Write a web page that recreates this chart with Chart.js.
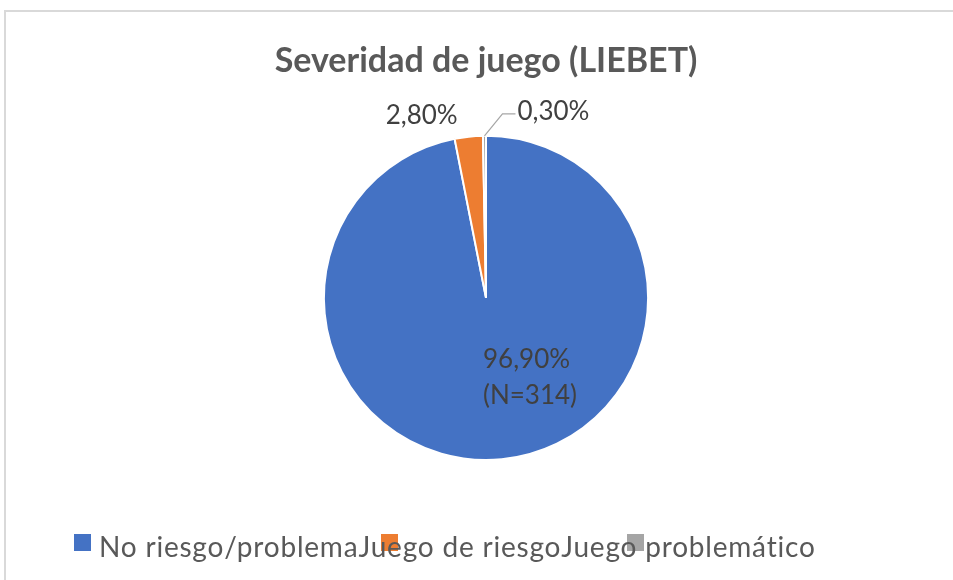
<!DOCTYPE html>
<html>
<head>
<meta charset="utf-8">
<script src="https://cdn.jsdelivr.net/npm/chart.js@4.4.0/dist/chart.umd.min.js"></script>
<style>
  body { margin: 0; background: #fff; }
</style>
</head>
<body>
<canvas id="mycanvas" width="953" height="580"></canvas>
<script>
// data
var categories = ['No riesgo/problema', 'Juego de riesgo', 'Juego problemático'];
var percentages = [96.9, 2.8, 0.3];
var counts = [314, null, null];
var colors = ['#4472C4', '#ED7D31', '#A5A5A5'];

function pctText(v) {
	return v.toFixed(2).replace('.', ',') + '%';
}

var frame = {
	id: 'frame',
	beforeDraw: function(chart) {
		var c = chart.ctx;
		c.save();
		c.strokeStyle = '#d9d9d9';
		c.lineWidth = 2;
		c.beginPath();
		c.moveTo(5, 600);
		c.lineTo(5, 11);
		c.lineTo(960, 11);
		c.stroke();
		c.restore();
	}
};

var labels = {
	id: 'labels',
	afterDatasetsDraw: function(chart) {
		var c = chart.ctx;
		var arcs = chart.getDatasetMeta(0).data;
		c.save();
		c.fillStyle = '#404040';
		c.font = '26px Lato';
		c.textBaseline = 'middle';
		c.textAlign = 'left';

		// big slice, label inside
		var a0 = arcs[0];
		var r = a0.outerRadius;
		c.fillText(pctText(percentages[0]), a0.x - 3, a0.y + 0.38 * r);
		c.fillText('(N=' + counts[0] + ')', a0.x - 3, a0.y + 0.6 * r);

		// small slices, outer point at mid angle
		function outer(a) {
			var m = (a.startAngle + a.endAngle) / 2;
			return { x: a.x + Math.cos(m) * a.outerRadius, y: a.y + Math.sin(m) * a.outerRadius };
		}
		var p1 = outer(arcs[1]);
		c.textAlign = 'center';
		c.fillText(pctText(percentages[1]), p1.x - 47, p1.y - 21);

		var p2 = outer(arcs[2]);
		c.strokeStyle = '#a6a6a6';
		c.lineWidth = 1.2;
		c.beginPath();
		c.moveTo(p2.x, p2.y);
		c.lineTo(p2.x + 18, p2.y - 22);
		c.lineTo(p2.x + 31, p2.y - 22);
		c.stroke();
		c.textAlign = 'left';
		c.fillText(pctText(percentages[2]), p2.x + 33, p2.y - 24);
		c.restore();
	}
};

// Excel style legend: boxes where Excel put them, texts run on
var legendBoxX = [74, 381, 627];
var legend = {
	id: 'xlLegend',
	afterDraw: function(chart) {
		var c = chart.ctx;
		c.save();
		for (var i = 0; i < categories.length; i++) {
			c.fillStyle = colors[i];
			c.fillRect(legendBoxX[i], 534, 17, 17);
		}
		c.font = '28px Lato';
		c.letterSpacing = '0.8px';
		c.textBaseline = 'middle';
		c.fillStyle = '#595959';
		var tx = 99;
		for (var j = 0; j < categories.length; j++) {
			c.fillText(categories[j], tx, 548);
			tx += c.measureText(categories[j]).width;
		}
		c.restore();
	}
};

var ctx = document.getElementById('mycanvas');
var pieChart = new Chart(ctx, {
	type: 'pie',
	data: {
		labels: categories,
		datasets: [{
			data: percentages,
			backgroundColor: colors,
			borderColor: '#ffffff',
			borderWidth: 2
		}]
	},
	options: {
		responsive: false,
		animation: false,
		layout: { padding: { left: 19, right: 0, top: 10, bottom: 119 } },
		plugins: {
			legend: { display: false },
			tooltip: { enabled: false },
			title: {
				display: true,
				text: 'Severidad de juego (LIEBET)',
				color: '#595959',
				font: { family: 'Lato', size: 34, weight: 'bold', lineHeight: 1.2 },
				padding: { top: 31, bottom: 53 }
			}
		}
	},
	plugins: [frame, labels, legend]
});
</script>
</body>
</html>
